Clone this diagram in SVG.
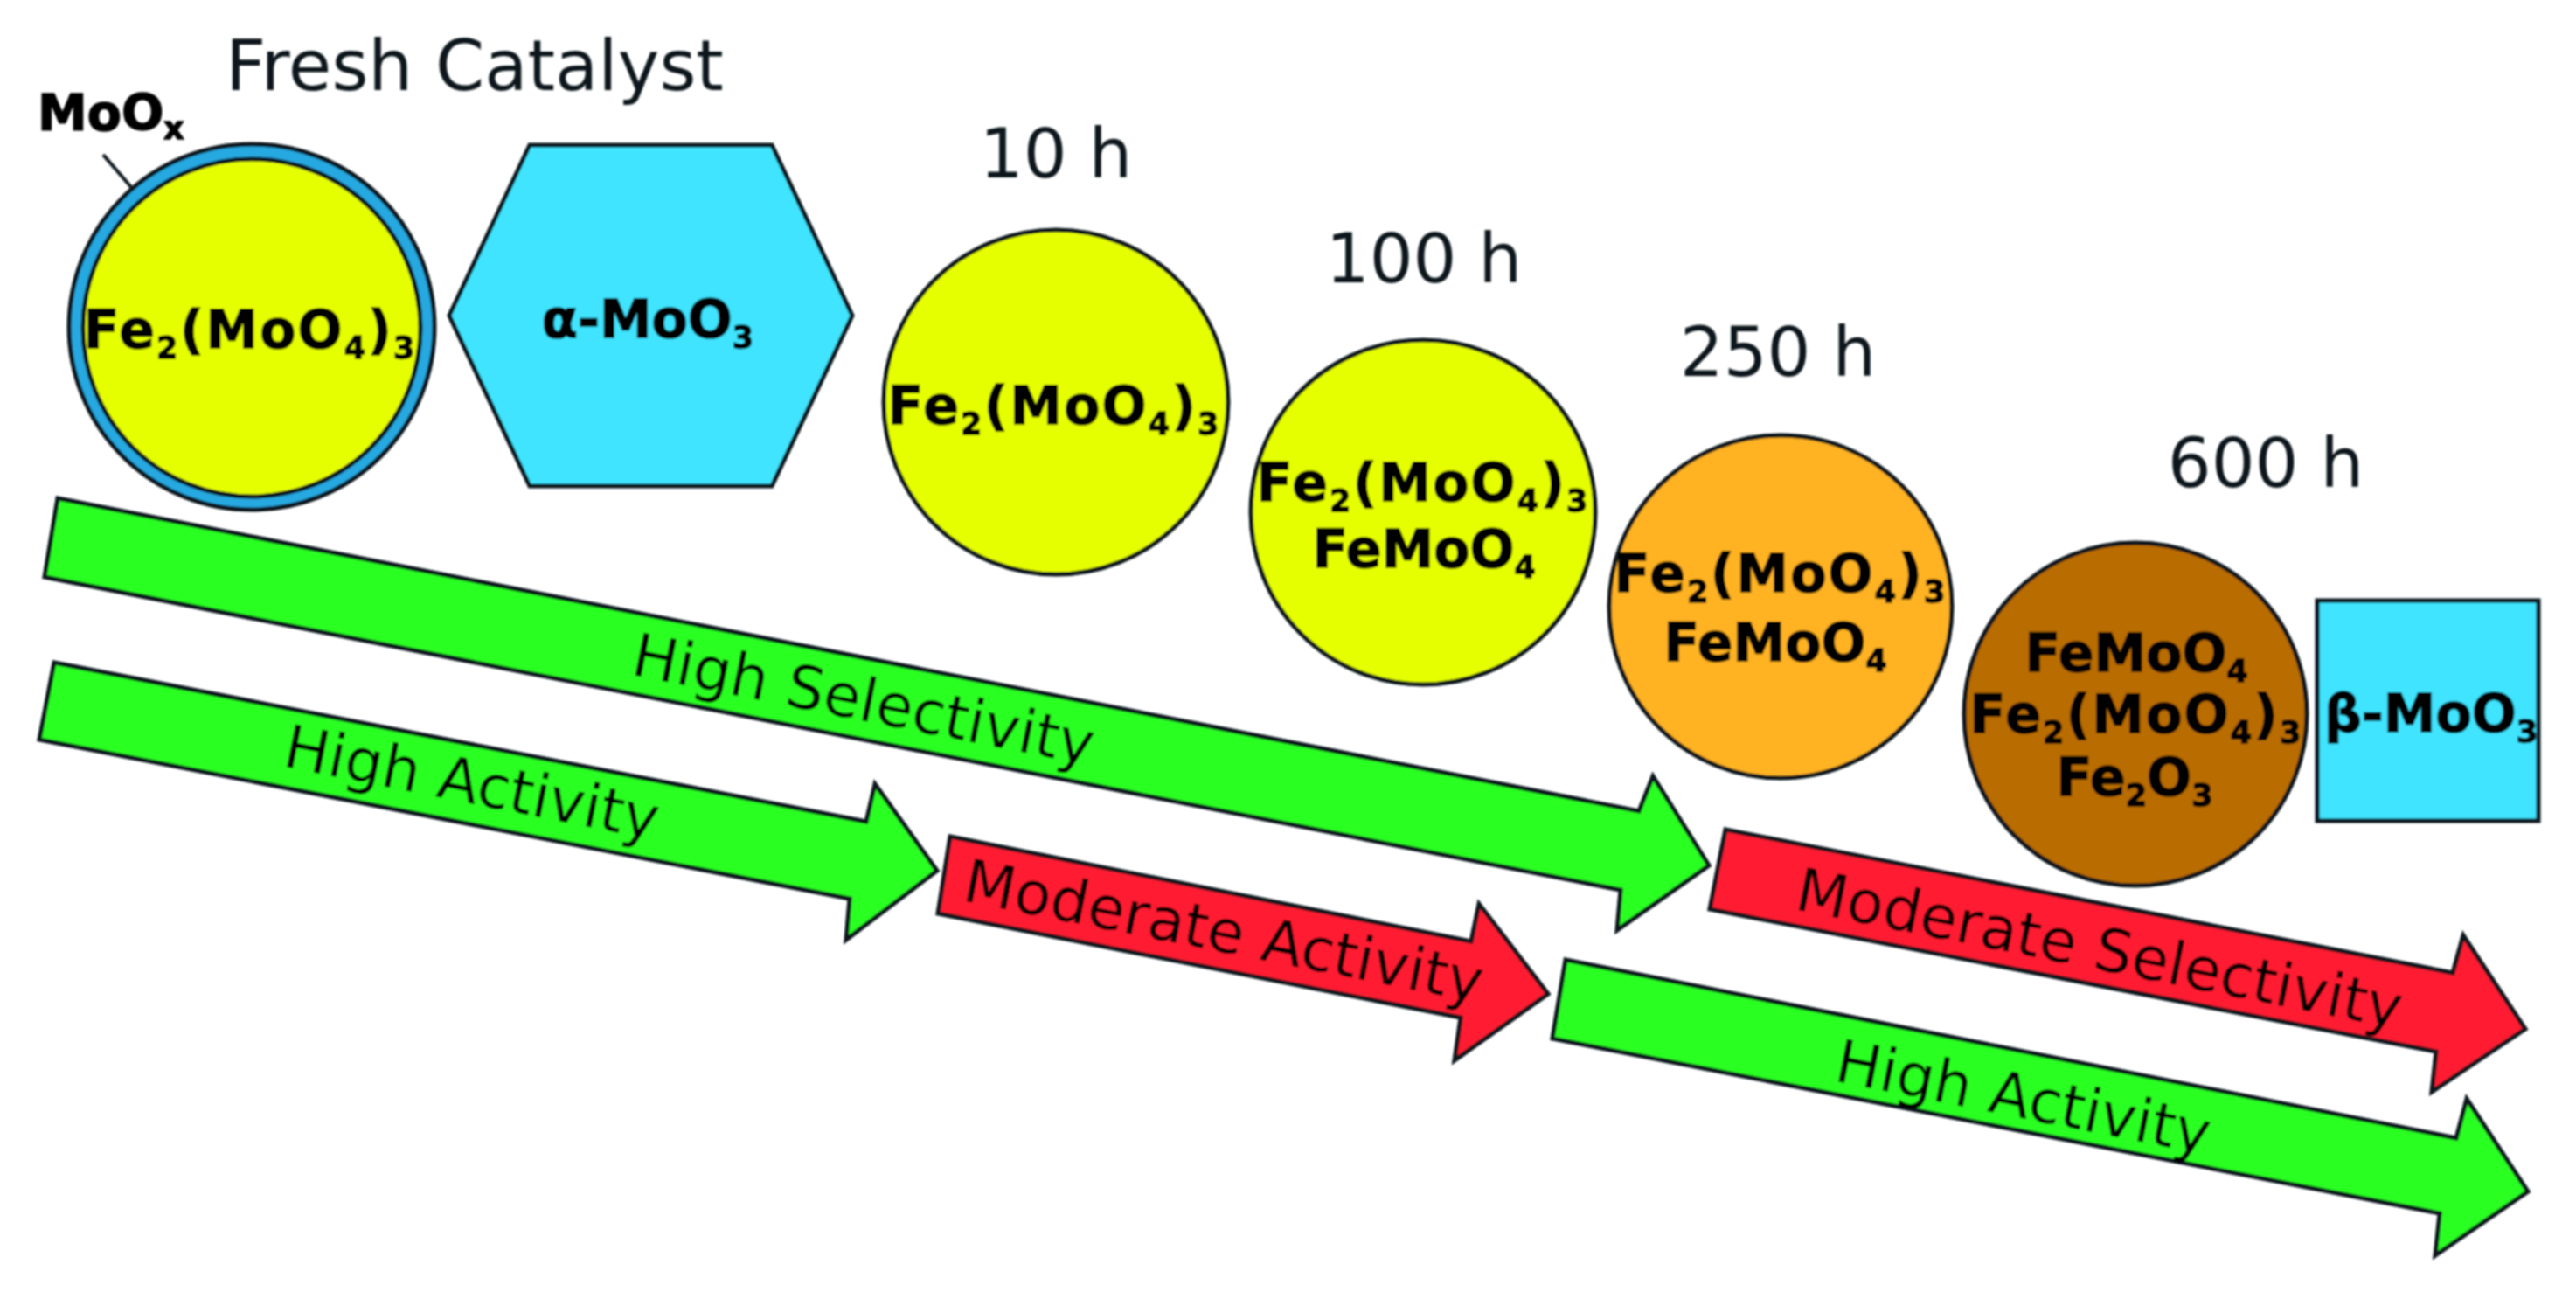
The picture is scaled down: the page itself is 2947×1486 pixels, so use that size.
<svg xmlns="http://www.w3.org/2000/svg" width="2947" height="1486" viewBox="0 0 2947 1486">
<defs><filter id="soft" x="-2%" y="-2%" width="104%" height="104%"><feGaussianBlur stdDeviation="1.2"/></filter></defs>
<style>
.o{stroke:#08141e;stroke-width:5}
.y{fill:#e6ff00}.b{fill:#40e4ff}
.g{fill:#2cff22}.r{fill:#ff1f30}
text{font-family:"DejaVu Sans",sans-serif;fill:#0a1418}
.t{font-size:78.5px;text-anchor:middle;fill:#0c181e}
.f{font-size:60px;font-weight:700;text-anchor:middle;fill:#030505;stroke:#030505;stroke-width:1.5}
.w{letter-spacing:2.2px}
.a{font-size:68.5px;text-anchor:middle;fill:#030303}
.s{font-size:35px}
</style>
<rect width="2947" height="1486" fill="#fff"/>
<g filter="url(#soft)">
<g id="connectors">
<g id="arrow-high-selectivity"><polygon class="o g" points="66,570 1875,928 1891,888 1955,990 1850,1064 1854,1018 51,660"/><text class="a" transform="translate(988,800) rotate(11.2)" y="24">High Selectivity</text></g>
<g id="arrow-high-activity-1"><polygon class="o g" points="62,758 991,940 1001,897 1072,996 968,1075 972,1028 45,846"/><text class="a" transform="translate(540,895) rotate(11.2)" y="24">High Activity</text></g>
<g id="arrow-moderate-activity"><polygon class="o r" points="1087,957 1683,1077 1692,1034 1771,1137 1664,1213 1671,1164 1073,1045"/><text class="a" transform="translate(1400,1065) rotate(11.2)" y="24">Moderate Activity</text></g>
<g id="arrow-moderate-selectivity"><polygon class="o r" points="1974,949 2806,1113 2818,1070 2889,1177 2782,1249 2787,1203 1956,1040"/><text class="a" transform="translate(2402,1085) rotate(11.2)" y="24">Moderate Selectivity</text></g>
<g id="arrow-high-activity-2"><polygon class="o g" points="1791,1098 2810,1302 2822,1257 2892,1363 2786,1436 2791,1388 1776,1188"/><text class="a" transform="translate(2315,1255) rotate(11.2)" y="24">High Activity</text></g>
</g>
<g id="fresh-label"><text class="t" x="543" y="103" style="font-size:80.5px">Fresh Catalyst</text></g>
<g id="node-fresh-circle">
<circle class="o" cx="288" cy="374" r="209" fill="#25a8e0"/>
<circle class="o y" cx="288" cy="375" r="193"/>
<text class="f w" x="286" y="398">Fe<tspan class="s" dy="12">2</tspan><tspan dy="-12">(MoO</tspan><tspan class="s" dy="12">4</tspan><tspan dy="-12">)</tspan><tspan class="s" dy="12">3</tspan></text>
</g>
<g id="node-moox"><text x="43" y="149" style="font-size:57px;font-weight:700;fill:#030505;stroke:#030505;stroke-width:1.5">MoO<tspan style="font-size:36px" dy="10">x</tspan></text><line x1="118" y1="177" x2="150" y2="214" stroke="#08141e" stroke-width="4"/></g>
<g id="node-alpha"><polygon class="o b" points="606,166 883,166 975,361 883,556 606,556 514,361"/><text class="f" x="741" y="386">α-MoO<tspan class="s" dy="12">3</tspan></text></g>
<g id="node-10h"><text class="t" x="1208" y="203">10 h</text><circle class="o y" cx="1208" cy="460" r="197"/><text class="f w" x="1206" y="485">Fe<tspan class="s" dy="12">2</tspan><tspan dy="-12">(MoO</tspan><tspan class="s" dy="12">4</tspan><tspan dy="-12">)</tspan><tspan class="s" dy="12">3</tspan></text></g>
<g id="node-100h"><text class="t" x="1629" y="323">100 h</text><circle class="o y" cx="1628" cy="586" r="197"/><text class="f w" x="1628" y="573">Fe<tspan class="s" dy="12">2</tspan><tspan dy="-12">(MoO</tspan><tspan class="s" dy="12">4</tspan><tspan dy="-12">)</tspan><tspan class="s" dy="12">3</tspan></text><text class="f" x="1629" y="649">FeMoO<tspan class="s" dy="12">4</tspan></text></g>
<g id="node-250h"><text class="t" x="2034" y="430">250 h</text><circle class="o" cx="2037" cy="694" r="196" fill="#ffb224"/><text class="f w" x="2037" y="677">Fe<tspan class="s" dy="12">2</tspan><tspan dy="-12">(MoO</tspan><tspan class="s" dy="12">4</tspan><tspan dy="-12">)</tspan><tspan class="s" dy="12">3</tspan></text><text class="f" x="2031" y="756">FeMoO<tspan class="s" dy="12">4</tspan></text></g>
<g id="node-600h"><text class="t" x="2592" y="557">600 h</text><circle class="o" cx="2443" cy="817" r="196" fill="#b96c00"/><text class="f" x="2444" y="768">FeMoO<tspan class="s" dy="12">4</tspan></text><text class="f w" x="2444" y="838">Fe<tspan class="s" dy="12">2</tspan><tspan dy="-12">(MoO</tspan><tspan class="s" dy="12">4</tspan><tspan dy="-12">)</tspan><tspan class="s" dy="12">3</tspan></text><text class="f" x="2442" y="910">Fe<tspan class="s" dy="12">2</tspan><tspan dy="-12">O</tspan><tspan class="s" dy="12">3</tspan></text></g>
<g id="node-beta"><rect class="o b" x="2651" y="687" width="253" height="252"/><text class="f" x="2781" y="837">β-MoO<tspan class="s" dy="12">3</tspan></text></g>
</g>
</svg>
